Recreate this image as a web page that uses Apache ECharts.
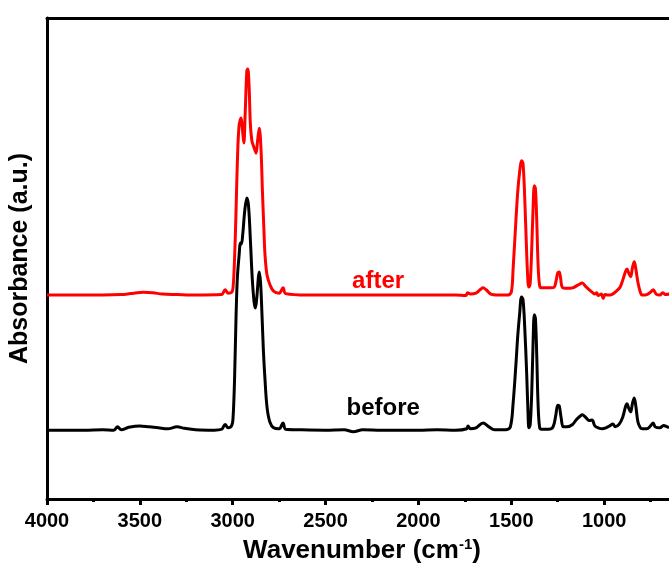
<!DOCTYPE html>
<html>
<head>
<meta charset="utf-8">
<script src="https://cdn.jsdelivr.net/npm/echarts@6/dist/echarts.min.js"></script>
<style>html,body{margin:0;padding:0;background:#fff;overflow:hidden;}#c{width:697px;height:565px;}</style>
</head>
<body>
<div id="c"></div>
<script>
var xTicks = [500, 1000, 1500, 2000, 2500, 3000, 3500, 4000];
var seriesNames = ['before', 'after'];
var before = [[4000,14.3],[3800,14.3],[3700,14.4],[3640,14.3],[3620,15.0],[3600,14.4],[3560,14.9],[3500,15.2],[3450,15.0],[3400,14.8],[3350,14.6],[3300,15.0],[3260,14.7],[3200,14.4],[3100,14.3],[3060,14.5],[3041,15.5],[3025,14.8],[3005,15.3],[2998,17],[2990,25],[2982,38],[2975,46],[2966,50.5],[2958,53.2],[2953,53.0],[2946,55],[2935,60],[2924,62.6],[2915,61],[2905,54],[2895,46],[2885,41],[2878,39.7],[2870,42],[2862,46],[2857,47.2],[2850,45],[2842,38],[2835,31],[2826,24.7],[2815,19],[2800,16],[2780,14.8],[2750,14.6],[2729,15.8],[2715,14.5],[2650,14.4],[2500,14.3],[2400,14.4],[2350,14.0],[2300,14.4],[2200,14.3],[2000,14.3],[1900,14.4],[1800,14.3],[1740,14.6],[1733,15.2],[1720,14.6],[1690,14.8],[1652,15.8],[1620,15.0],[1590,14.4],[1530,14.4],[1505,15],[1490,20],[1475,28],[1465,34],[1455,38.5],[1445,42.0],[1437,41.5],[1428,36],[1417,26],[1410,18],[1405,14.8],[1398,15.5],[1390,22],[1383,32],[1376,38.3],[1370,37.5],[1363,30],[1356,20],[1348,15],[1338,14.5],[1300,14.5],[1275,15],[1260,17.5],[1250,19.5],[1242,19.4],[1232,17],[1220,15],[1200,15],[1170,15.5],[1150,16.5],[1130,17.2],[1118,17.5],[1100,17],[1080,16.3],[1065,16.4],[1050,15.2],[1032,14.8],[1010,14.6],[990,14.8],[970,15.2],[953,15.6],[940,15],[920,15.5],[900,17],[885,19.2],[877,19.8],[868,18.9],[857,18.1],[848,19.8],[838,21.0],[830,19.5],[818,16],[805,14.8],[795,14.6],[770,14.6],[750,15.2],[736,15.8],[725,15.0],[700,14.8],[680,15.3],[660,15.0],[650,14.8]];
var after = [[4000,42.4],[3700,42.4],[3600,42.5],[3550,42.7],[3480,43.0],[3430,42.9],[3380,42.6],[3300,42.5],[3200,42.4],[3060,42.5],[3041,43.5],[3025,42.8],[3005,43.0],[2998,44],[2990,50],[2982,60],[2975,70],[2966,77.5],[2955,79.2],[2948,77],[2940,74.0],[2933,80],[2924,89],[2919,89.4],[2912,86],[2905,78],[2897,74.5],[2890,73.6],[2880,72.5],[2874,71.9],[2866,74.5],[2857,77.1],[2848,73],[2840,64],[2832,56],[2826,50.7],[2815,46.5],[2799,44.5],[2780,43.2],[2750,42.8],[2729,43.9],[2715,42.7],[2600,42.4],[2400,42.4],[2000,42.4],[1800,42.4],[1745,42.3],[1735,42.9],[1720,42.6],[1690,42.8],[1665,43.6],[1652,43.9],[1635,43.5],[1610,42.6],[1580,42.4],[1520,42.4],[1500,43],[1490,48],[1475,58],[1465,64],[1455,68],[1445,70.3],[1437,69.8],[1428,63],[1418,52],[1410,45],[1405,44.1],[1398,45],[1390,52],[1383,60],[1376,65.1],[1370,64.5],[1363,58],[1356,49],[1348,44.5],[1338,43.9],[1290,43.9],[1270,44],[1258,45.5],[1250,47],[1242,47.2],[1234,45.8],[1225,44],[1200,43.8],[1170,43.9],[1140,44.5],[1118,44.9],[1100,44.2],[1080,43.5],[1065,43.0],[1050,42.6],[1040,42.9],[1032,42.3],[1015,42.6],[1005,41.7],[995,42.5],[980,42.4],[960,42.5],[940,43],[915,44],[900,45.5],[885,47.3],[877,47.8],[868,47],[857,46.2],[848,48],[838,49.3],[830,48],[818,45],[805,43],[795,42.4],[770,42.5],[750,43.0],[736,43.5],[720,42.6],[700,42.4],[685,42.9],[670,42.5],[650,42.6]];
var labelPos = {after: [2217, 45.3], before: [2190, 18.9]};

var FONT = "'Liberation Sans', Arial, sans-serif";
function lbl(text, color) {
  return {show: true, position: 'inside', formatter: text, fontFamily: FONT, fontWeight: 'bold', fontSize: 24, color: color};
}
var chart = echarts.init(document.getElementById('c'), null, {renderer: 'canvas', width: 697, height: 565});
chart.setOption({
  backgroundColor: '#ffffff',
  animation: false,
  grid: {left: 47, top: 18, right: 0, bottom: 66, containLabel: false, outerBoundsMode: 'none'},
  xAxis: [{
    type: 'value', min: xTicks[0], max: xTicks[xTicks.length - 1], interval: 500, inverse: true,
    position: 'bottom',
    name: '{t|Wavenumber (cm}{s|-1}{t|)}', nameLocation: 'middle', nameGap: 38,
    nameTextStyle: {padding: [0, 20, 0, 0], rich: {
      t: {fontFamily: FONT, fontWeight: 'bold', fontSize: 26, color: '#000'},
      s: {fontFamily: FONT, fontWeight: 'bold', fontSize: 15, color: '#000', verticalAlign: 'top', padding: [0, 0, 13, 0]}
    }},
    axisLine: {show: true, onZero: false, lineStyle: {color: '#000', width: 3}},
    axisTick: {show: true, inside: false, length: 6, lineStyle: {color: '#000', width: 3}},
    minorTick: {show: true, splitNumber: 2, length: 3, lineStyle: {color: '#000', width: 3}},
    axisLabel: {fontFamily: FONT, fontWeight: 'bold', fontSize: 20, color: '#000', margin: 12,
      formatter: function (v) { return v === xTicks[0] ? '' : String(v); }},
    splitLine: {show: false}
  }, {
    type: 'value', min: xTicks[0], max: xTicks[xTicks.length - 1], inverse: true, position: 'top',
    axisLine: {show: true, onZero: false, lineStyle: {color: '#000', width: 3}},
    axisTick: {show: false}, axisLabel: {show: false}, splitLine: {show: false}
  }],
  yAxis: {
    type: 'value', min: 0, max: 100,
    name: 'Absorbance (a.u.)', nameLocation: 'middle', nameGap: 14,
    nameTextStyle: {fontFamily: FONT, fontWeight: 'bold', fontSize: 25, color: '#000'},
    axisLine: {show: true, onZero: false, lineStyle: {color: '#000', width: 3}},
    axisTick: {show: false}, axisLabel: {show: false}, splitLine: {show: false}
  },
  series: [{
    name: seriesNames[0], type: 'line', data: before, showSymbol: false, smooth: 0.35,
    lineStyle: {color: '#000000', width: 3}, itemStyle: {color: '#000'},
    markPoint: {symbol: 'circle', symbolSize: 1, itemStyle: {color: 'rgba(0,0,0,0)'},
      data: [{coord: labelPos.before, label: lbl('before', '#000000')}]}
  }, {
    name: seriesNames[1], type: 'line', data: after, showSymbol: false, smooth: 0.35,
    lineStyle: {color: '#ff0000', width: 3}, itemStyle: {color: '#ff0000'},
    markPoint: {symbol: 'circle', symbolSize: 1, itemStyle: {color: 'rgba(0,0,0,0)'},
      data: [{coord: labelPos.after, label: lbl('after', '#ff0000')}]}
  }]
});
</script>
</body>
</html>
